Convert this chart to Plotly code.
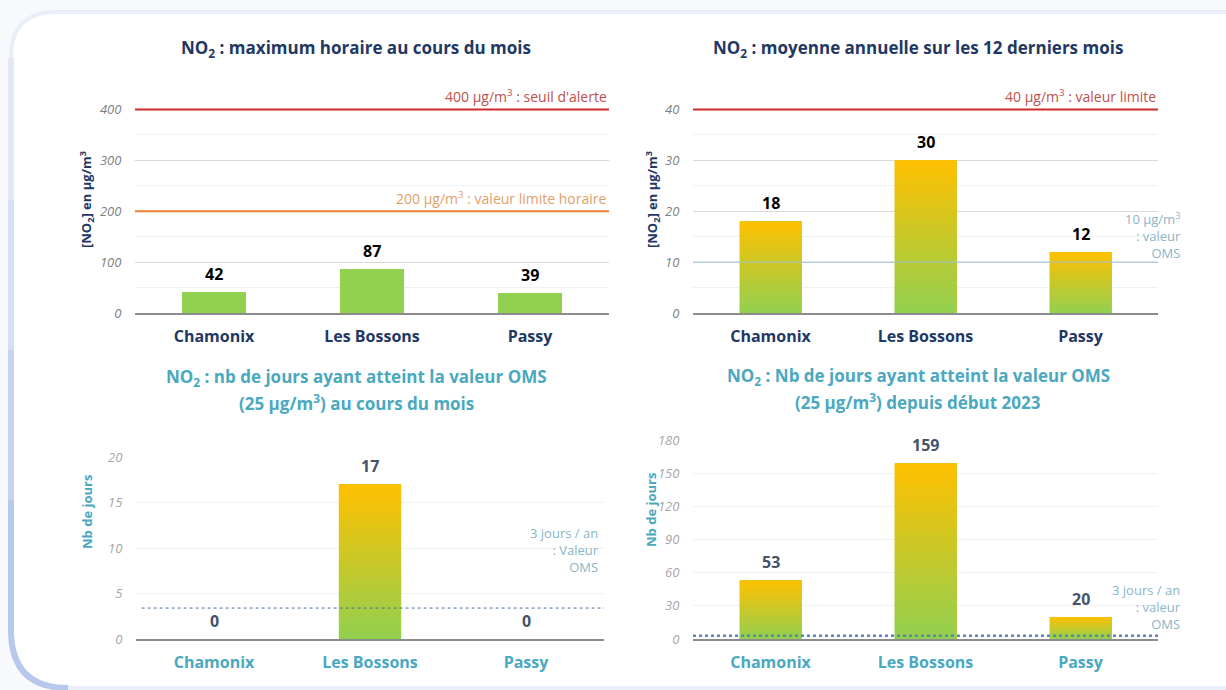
import plotly.graph_objects as go

# ---------------- data ----------------
categories = ["Chamonix", "Les Bossons", "Passy"]
max_horaire = [42, 87, 39]          # NO2 maximum horaire (µg/m3)
moy_annuelle = [18, 30, 12]         # NO2 moyenne annuelle (µg/m3)
jours_mois = [0, 17, 0]             # nb jours >= 25 µg/m3 au cours du mois
jours_2023 = [53, 159, 20]          # nb jours >= 25 µg/m3 depuis début 2023

seuils_max = [400, 200]
seuils_moy = [40, 10]
seuil_jours_mois = 3.4
seuil_jours_2023 = 3

W, H = 1226, 690
NAVY = "#1f3864"
TEAL = "#4aa8bf"
SLATE = "#44546a"
GREEN = "#92d050"
GOLD = "#ffc000"
BAR_W = 0.4
FONT = "Open Sans"


def px_x(x):
    return x / W


def px_y(y):
    return 1 - y / H


def dom_x(a, b):
    return [px_x(a), px_x(b)]


def dom_y(top, bottom):
    return [px_y(bottom), px_y(top)]


fig = go.Figure()

idx = list(range(len(categories)))

# panel 1 : solid green bars
fig.add_trace(go.Bar(x=idx, y=max_horaire, width=BAR_W, marker_color=GREEN,
                     marker_line_width=0, xaxis="x", yaxis="y", hoverinfo="skip"))


def gradient_bars(values, xa, ya):
    fig.add_trace(go.Bar(x=idx, y=values, width=BAR_W, marker_color="#c8c83a",
                         marker_line_width=0, xaxis=xa, yaxis=ya, hoverinfo="skip"))
    for i, v in zip(idx, values):
        if v <= 0:
            continue
        fig.add_trace(go.Scatter(
            x=[i - BAR_W / 2, i + BAR_W / 2, i + BAR_W / 2, i - BAR_W / 2, i - BAR_W / 2],
            y=[0, 0, v, v, 0], mode="lines", line=dict(width=0),
            fill="toself",
            fillgradient=dict(type="vertical", colorscale=[[0, GREEN], [1, GOLD]]),
            xaxis=xa, yaxis=ya, hoverinfo="skip"))


gradient_bars(moy_annuelle, "x2", "y2")
gradient_bars(jours_mois, "x3", "y3")
gradient_bars(jours_2023, "x4", "y4")

# ---------------- axes ----------------
xcommon = dict(range=[-0.5, 2.5], tickvals=idx, ticktext=categories,
               showgrid=False, zeroline=False, showline=True, automargin=False,
               linecolor="#8c8c8c", linewidth=1.5, ticks="outside", ticklen=8,
               tickcolor="rgba(0,0,0,0)", fixedrange=True)


def ycommon(rng, dtick, gridcolor, tickcolor, minor=None):
    d = dict(range=rng, dtick=dtick, showgrid=True, gridcolor=gridcolor, gridwidth=1,
             zeroline=False, showline=False, ticks="outside", ticklen=10, automargin=False,
             tickcolor="rgba(0,0,0,0)", fixedrange=True,
             tickfont=dict(family=FONT, size=13, color=tickcolor, style="italic"))
    if minor:
        d["minor"] = dict(dtick=minor, showgrid=True, gridcolor="#f0f0f0", gridwidth=1)
    return d


fig.update_layout(
    xaxis=dict(xcommon, domain=dom_x(135, 609), anchor="y",
               tickfont=dict(family=FONT, size=16, color=NAVY, weight="bold")),
    yaxis=dict(ycommon([0, 450], 100, "#d9d9d9", "#7f7f7f", 50),
               domain=dom_y(84, 313), anchor="x"),
    xaxis2=dict(xcommon, domain=dom_x(693, 1158), anchor="y2",
                tickfont=dict(family=FONT, size=16, color=NAVY, weight="bold")),
    yaxis2=dict(ycommon([0, 45], 10, "#d9d9d9", "#7f7f7f", 5),
                domain=dom_y(84, 313), anchor="x2"),
    xaxis3=dict(xcommon, domain=dom_x(136, 604), anchor="y3",
                tickfont=dict(family=FONT, size=16, color=TEAL, weight="bold")),
    yaxis3=dict(ycommon([0, 20], 5, "#f0f0f0", "#a6a6a6"),
                domain=dom_y(457, 639), anchor="x3"),
    xaxis4=dict(xcommon, domain=dom_x(693, 1158), anchor="y4",
                tickfont=dict(family=FONT, size=16, color=TEAL, weight="bold")),
    yaxis4=dict(ycommon([0, 180], 30, "#f0f0f0", "#a6a6a6"),
                domain=dom_y(440, 639), anchor="x4"),
)

# ---------------- shapes (card + threshold lines) ----------------
shapes = []


def P(x, y):
    return f"{px_x(x):.5f},{px_y(y):.5f}"


card = (f"M {P(11, 58)} Q {P(11, 12)} {P(56, 12)} L {P(1240, 12)} L {P(1240, 688)} "
        f"L {P(68, 688)} Q {P(11, 688)} {P(11, 630)} Z")
shapes.append(dict(type="path", path=card, xref="paper", yref="paper",
                   fillcolor="white", line=dict(color="#e9eef8", width=4), layer="below"))
left_segments = [(58, 200, "#e2e9f6"), (200, 350, "#d4dff3"), (350, 500, "#c5d4f0")]
for a, b, c in left_segments:
    shapes.append(dict(type="path", path=f"M {P(11, a)} L {P(11, b)}", xref="paper",
                       yref="paper", line=dict(color=c, width=6), layer="below"))
shapes.append(dict(type="path", path=f"M {P(11, 500)} L {P(11, 630)} Q {P(11, 688)} {P(68, 688)}",
                   xref="paper", yref="paper", line=dict(color="#b6c8ec", width=6),
                   layer="below"))


def hline(y, xa, ya, color, width, dash="solid", x0=0, x1=1):
    shapes.append(dict(type="line", xref=f"{xa} domain", yref=ya, x0=x0, x1=x1, y0=y, y1=y,
                       line=dict(color=color, width=width, dash=dash), layer="above"))


hline(seuils_max[0], "x", "y", "#d02a2a", 2)
hline(seuils_max[1], "x", "y", "#ed7d31", 2)
hline(seuils_moy[0], "x2", "y2", "#d02a2a", 2)
hline(seuils_moy[1], "x2", "y2", "#9cc3d3", 1)
hline(seuil_jours_mois, "x3", "y3", "#4a6f9a", 1, "dot", 0.012, 1)
hline(seuil_jours_2023, "x4", "y4", "#5b86bd", 2.5, "dot")

fig.update_layout(shapes=shapes)

# ---------------- annotations ----------------
ann = []


def text_paper(x, y, text, size, color, bold=True, angle=0, xanchor="center"):
    ann.append(dict(x=px_x(x), y=px_y(y), xref="paper", yref="paper", text=text,
                    showarrow=False, textangle=angle, xanchor=xanchor, yanchor="middle",
                    font=dict(family=FONT, size=size, color=color,
                              weight="bold" if bold else "normal")))


# titles
text_paper(356, 49, "NO<sub>2</sub> : maximum horaire au cours du mois", 17, NAVY)
text_paper(918, 49, "NO<sub>2</sub> : moyenne annuelle sur les 12 derniers mois", 17, NAVY)
text_paper(356, 377, "NO<sub>2</sub> : nb de jours ayant atteint la valeur OMS", 17, TEAL)
text_paper(356, 402, "(25 µg/m<sup>3</sup>) au cours du mois", 17, TEAL)
text_paper(918, 376, "NO<sub>2</sub> : Nb de jours ayant atteint la valeur OMS", 17, TEAL)
text_paper(918, 401, "(25 µg/m<sup>3</sup>) depuis début 2023", 17, TEAL)

# y-axis titles
text_paper(87, 200, "[NO<sub>2</sub>] en µg/m<sup>3</sup>", 13, NAVY, angle=-90)
text_paper(653, 200, "[NO<sub>2</sub>] en µg/m<sup>3</sup>", 13, NAVY, angle=-90)
text_paper(87, 512, "Nb de jours", 13, TEAL, angle=-90)
text_paper(651, 510, "Nb de jours", 13, TEAL, angle=-90)


def values_labels(values, xa, ya, color):
    for i, v in zip(idx, values):
        ann.append(dict(x=i, y=v, xref=xa, yref=ya, text=str(v), showarrow=False,
                        yanchor="bottom", yshift=5,
                        font=dict(family=FONT, size=16, color=color, weight="bold")))


values_labels(max_horaire, "x", "y", "#000000")
values_labels(moy_annuelle, "x2", "y2", "#000000")
values_labels(jours_mois, "x3", "y3", SLATE)
values_labels(jours_2023, "x4", "y4", SLATE)


def thr_label(text, xa, ya, xd, y, color, size, yanchor="bottom"):
    ann.append(dict(x=xd, y=y, xref=f"{xa} domain", yref=ya, text=text, showarrow=False,
                    xanchor="right", yanchor=yanchor, align="right", yshift=1,
                    font=dict(family=FONT, size=size, color=color)))


thr_label(f"{seuils_max[0]} µg/m<sup>3</sup> : seuil d'alerte", "x", "y", 1.0,
          seuils_max[0], "#c0504d", 14)
thr_label(f"{seuils_max[1]} µg/m<sup>3</sup> : valeur limite horaire", "x", "y", 1.0,
          seuils_max[1], "#e0a06a", 14)
thr_label(f"{seuils_moy[0]} µg/m<sup>3</sup> : valeur limite", "x2", "y2", 1.0,
          seuils_moy[0], "#c0504d", 14)
thr_label(f"{seuils_moy[1]} µg/m<sup>3</sup><br>: valeur<br>OMS", "x2", "y2", 1.054,
          15.1, "#8ab5c7", 13, "middle")
thr_label("3 jours / an<br>: Valeur<br>OMS", "x3", "y3", 0.994, 9.7, "#8ab5c7", 13, "middle")
thr_label("3 jours / an<br>: valeur<br>OMS", "x4", "y4", 1.054, 28, "#8ab5c7", 13, "middle")

fig.update_layout(
    annotations=ann,
    width=W, height=H,
    margin=dict(l=0, r=0, t=0, b=0, pad=0, autoexpand=False),
    paper_bgcolor="#f8f9fc",
    plot_bgcolor="rgba(0,0,0,0)",
    showlegend=False,
    bargap=0,
    font=dict(family=FONT),
)

post = (
    "var de=document.documentElement, b=document.body;"
    "de.style.margin='0';de.style.padding='0';de.style.overflow='hidden';"
    "b.style.margin='0';b.style.padding='0';b.style.overflow='hidden';"
    "var gd=document.getElementById('{plot_id}');"
    "gd.style.position='fixed';gd.style.top='0px';gd.style.left='0px';"
)

fig.write_html("out.html", config={"displayModeBar": False}, post_script=post)
